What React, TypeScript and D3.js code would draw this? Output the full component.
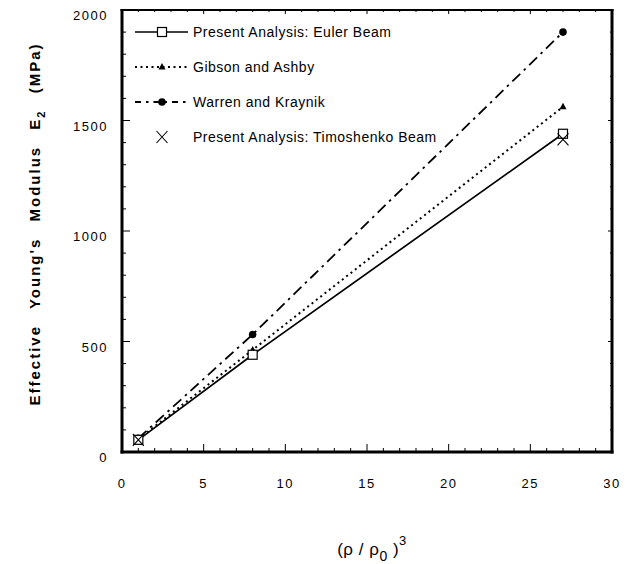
import React from "react";
import * as d3 from "d3";

const xValues = [1, 8, 27];
const eulerBeam = [55, 440, 1440];
const gibsonAshby = [58, 462, 1562];
const warrenKraynik = [62, 532, 1900];
const timoshenkoX = [1, 27];
const timoshenkoBeam = [55, 1415];
const xTicks = [0, 5, 10, 15, 20, 25, 30];
const yTicks = [0, 500, 1000, 1500, 2000];
const legendLabels = [
  "Present Analysis: Euler Beam",
  "Gibson and Ashby",
  "Warren and Kraynik",
  "Present Analysis: Timoshenko Beam",
];

const W = 626;
const H = 564;
const L = 122, R = 612, T = 10, B = 452;
const FONT = "'Liberation Sans', Arial, Helvetica, sans-serif";

export default function App() {
  const x = d3.scaleLinear().domain([0, 30]).range([L, R]);
  const y = d3.scaleLinear().domain([0, 2000]).range([B, T]);
  const line = d3
    .line<[number, number]>()
    .x((d) => x(d[0]))
    .y((d) => y(d[1]));

  const pts = (ys: number[], xs = xValues) => xs.map((v, i) => [v, ys[i]] as [number, number]);

  const xMinor = d3.range(0, 31, 1);
  const yMinor = d3.range(0, 2001, 100);

  const square = (cx: number, cy: number, k: string) => (
    <rect key={k} x={cx - 4.5} y={cy - 4.5} width={9} height={9} fill="white" stroke="black" strokeWidth={1.2} />
  );
  const tri = (cx: number, cy: number, k: string) => (
    <path key={k} d={`M${cx},${cy - 4} L${cx + 3.5},${cy + 2.5} L${cx - 3.5},${cy + 2.5} Z`} fill="black" />
  );
  const circ = (cx: number, cy: number, k: string) => <circle key={k} cx={cx} cy={cy} r={3.8} fill="black" />;
  const cross = (cx: number, cy: number, k: string) => (
    <path key={k} d={`M${cx - 5.5},${cy - 6} L${cx + 5.5},${cy + 6} M${cx + 5.5},${cy - 6} L${cx - 5.5},${cy + 6}`} stroke="black" strokeWidth={1.1} fill="none" />
  );

  const legY = [32, 67, 102, 137];
  const lx0 = 135, lx1 = 188, lmx = 162, ltx = 193;

  return (
    <svg width={W} height={H} style={{ position: "absolute", left: 0, top: 0, background: "white" }}>
      <rect x={0} y={0} width={W} height={H} fill="white" />
      {xMinor.map((v) => {
        const major = v % 5 === 0;
        return (
          <g key={"xt" + v}>
            <line x1={x(v)} x2={x(v)} y1={B} y2={B - (major ? 8 : 4)} stroke="black" strokeWidth={1} />
            <line x1={x(v)} x2={x(v)} y1={T} y2={T + (major ? 4 : 2)} stroke="black" strokeWidth={1} />
          </g>
        );
      })}
      {yMinor.map((v) => {
        const major = v % 500 === 0;
        return (
          <g key={"yt" + v}>
            <line x1={L} x2={L + (major ? 8 : 4)} y1={y(v)} y2={y(v)} stroke="black" strokeWidth={1} />
            <line x1={R} x2={R - (major ? 4 : 2)} y1={y(v)} y2={y(v)} stroke="black" strokeWidth={1} />
          </g>
        );
      })}
      <line x1={L} x2={L} y1={T - 1} y2={B + 1.5} stroke="black" strokeWidth={3} />
      <line x1={L - 1.5} x2={R + 1.5} y1={B} y2={B} stroke="black" strokeWidth={3} />
      <line x1={R} x2={R} y1={T - 1} y2={B + 1.5} stroke="black" strokeWidth={3} />
      <line x1={L - 1.5} x2={R + 1.5} y1={T} y2={T} stroke="black" strokeWidth={2} />

      {xTicks.map((v) => (
        <text key={"xl" + v} x={x(v)} y={488} textAnchor="middle" fontFamily={FONT} fontSize={13} letterSpacing={1.5} fill="black">
          {v}
        </text>
      ))}
      {yTicks.map((v) => (
        <text key={"yl" + v} x={108} y={y(v) + 10} textAnchor="end" fontFamily={FONT} fontSize={13} letterSpacing={1.5} fill="black">
          {v}
        </text>
      ))}

      <path d={line(pts(warrenKraynik)) || ""} fill="none" stroke="black" strokeWidth={1.8} strokeDasharray="11,5,2.5,5" />
      <path d={line(pts(gibsonAshby)) || ""} fill="none" stroke="black" strokeWidth={2} strokeDasharray="2,3.5" />
      <path d={line(pts(eulerBeam)) || ""} fill="none" stroke="black" strokeWidth={1.7} />

      {xValues.map((v, i) => circ(x(v), y(warrenKraynik[i]), "c" + i))}
      {xValues.map((v, i) => tri(x(v), y(gibsonAshby[i]), "t" + i))}
      {xValues.map((v, i) => square(x(v), y(eulerBeam[i]), "s" + i))}
      {timoshenkoX.map((v, i) => cross(x(v), y(timoshenkoBeam[i]), "x" + i))}

      <line x1={lx0} x2={lx1} y1={legY[0]} y2={legY[0]} stroke="black" strokeWidth={1.6} />
      {square(lmx, legY[0], "ls")}
      <line x1={lx0} x2={lx1} y1={legY[1]} y2={legY[1]} stroke="black" strokeWidth={2} strokeDasharray="2,3.5" />
      {tri(lmx, legY[1], "lt")}
      <line x1={lx0} x2={lx1} y1={legY[2]} y2={legY[2]} stroke="black" strokeWidth={1.8} strokeDasharray="6,5,2.5,5" />
      {circ(lmx, legY[2], "lc")}
      {cross(lmx, legY[3], "lx")}
      {legendLabels.map((t, i) => (
        <text key={"lg" + i} x={ltx} y={legY[i] + 5} fontFamily={FONT} fontSize={14} letterSpacing={0.5} fill="black">
          {t}
        </text>
      ))}

      <text x={372} y={555} textAnchor="middle" fontFamily={FONT} fontSize={17} letterSpacing={0.5} fill="black">
        <tspan>(ρ / ρ</tspan>
        <tspan dy={6} fontSize={14}>0</tspan>
        <tspan dy={-6}> )</tspan>
        <tspan dy={-10} fontSize={13}>3</tspan>
      </text>
      <text
        transform={`translate(40,${224}) rotate(-90)`}
        textAnchor="middle"
        fontFamily={FONT}
        fontSize={15}
        fontWeight="bold"
        letterSpacing={2}
        wordSpacing={10}
        fill="black"
      >
        <tspan>Effective Young's Modulus E</tspan>
        <tspan dy={5} fontSize={11}>2</tspan>
        <tspan dy={-5}> (MPa)</tspan>
      </text>
    </svg>
  );
}
